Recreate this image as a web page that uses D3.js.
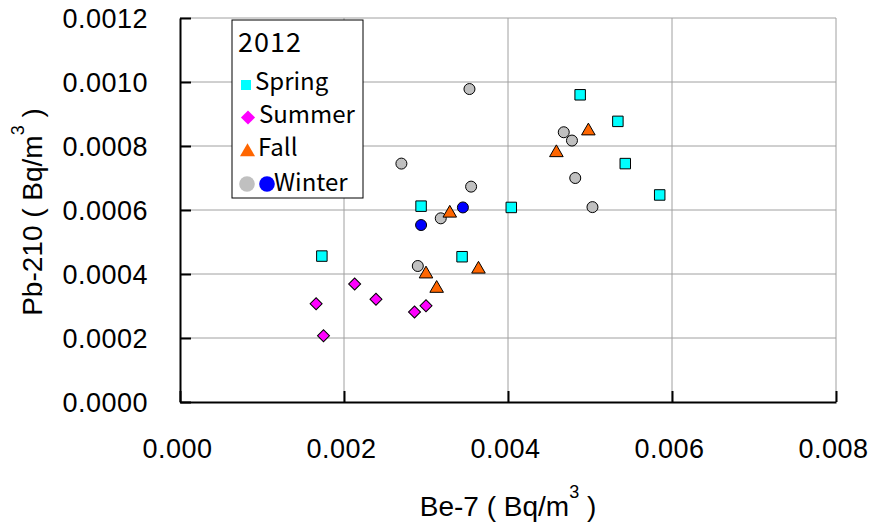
<!DOCTYPE html>
<html lang="en">
<head>
<meta charset="UTF-8">
<title>Be-7 vs Pb-210 2012</title>
<script src="https://cdn.jsdelivr.net/npm/d3@7"></script>
<style>
    body { margin: 0; background: #fff; }
    svg text { font-family: "Liberation Sans", Arial, sans-serif; fill: #000; }
    .grid line { stroke: #a0a0a0; stroke-width: 1px; }
    .axis path, .axis line { stroke: #000; stroke-width: 2px; }
    .axis text { font-family: "Liberation Sans", Arial, sans-serif; letter-spacing: 0.5px; }
    .legend text { font-family: "Noto Sans CJK JP", "DejaVu Sans", sans-serif; }
</style>
</head>
<body>
<svg width="869" height="526"></svg>
<script>
    // data (Be-7, Pb-210 in Bq/m3)
    var springX = [0.00173, 0.00294, 0.00344, 0.00404, 0.00488, 0.00534, 0.00543, 0.00585],
        springY = [0.000456, 0.000612, 0.000454, 0.000608, 0.00096, 0.000877, 0.000745, 0.000647];

    var summerX = [0.00166, 0.00175, 0.00213, 0.00239, 0.00286, 0.00300],
        summerY = [0.000307, 0.000207, 0.000369, 0.000321, 0.000281, 0.000301];

    var fallX = [0.00329, 0.00300, 0.00313, 0.00364, 0.00459, 0.00498],
        fallY = [0.000590, 0.000400, 0.000355, 0.000415, 0.000779, 0.000847];

    var winterGrayX = [0.00353, 0.00270, 0.00355, 0.00318, 0.00290, 0.00468, 0.00478, 0.00482, 0.00503],
        winterGrayY = [0.000978, 0.000745, 0.000673, 0.000574, 0.000425, 0.000843, 0.000817, 0.000700, 0.000609];

    var winterBlueX = [0.00294, 0.00345],
        winterBlueY = [0.000553, 0.000608];

    var xTicks = [0, 0.002, 0.004, 0.006, 0.008],
        yTicks = [0, 0.0002, 0.0004, 0.0006, 0.0008, 0.0010, 0.0012];

    var legendTitle = '2012',
        legendNames = ['Spring', 'Summer', 'Fall', 'Winter'];

    var svg = d3.select('svg'),
        pLeft = 180, pRight = 836, pTop = 18, pBottom = 402;

    var x = d3.scaleLinear().domain([0, 0.008]).range([pLeft, pRight]),
        y = d3.scaleLinear().domain([0, 0.0012]).range([pBottom, pTop]);

    // grid
    var grid = svg.append('g').classed('grid', true);
    grid.selectAll('.gy')
        .data(yTicks.slice(1))
        .enter().append('line')
        .attr('x1', pLeft).attr('x2', pRight)
        .attr('y1', function(d) { return y(d); })
        .attr('y2', function(d) { return y(d); });
    grid.selectAll('.gx')
        .data(xTicks.slice(1))
        .enter().append('line')
        .attr('y1', pTop).attr('y2', pBottom)
        .attr('x1', function(d) { return x(d); })
        .attr('x2', function(d) { return x(d); });

    // axes, ticks pointing inward
    svg.append('g')
        .classed('axis', true)
        .attr('transform', 'translate(0,' + pBottom + ')')
        .call(d3.axisBottom(x).tickValues(xTicks).tickSize(-11).tickSizeOuter(0).tickFormat(d3.format('.3f')))
        .call(function(g) {
            g.attr('font-size', null).attr('font-family', null);
            g.selectAll('text').attr('dy', 0).attr('y', 56).attr('dx', -3).style('font-size', '27px');
        });

    svg.append('g')
        .classed('axis', true)
        .attr('transform', 'translate(' + pLeft + ',0)')
        .call(d3.axisLeft(y).tickValues(yTicks).tickSize(-11).tickSizeOuter(0).tickFormat(d3.format('.4f')))
        .call(function(g) {
            g.attr('font-size', null).attr('font-family', null);
            g.selectAll('text').attr('x', -32).attr('dy', '0.36em').style('font-size', '27px');
        });

    svg.selectAll('.axis .domain').attr('stroke-width', 2.5);

    // axis titles
    var xt = svg.append('text')
        .attr('x', (pLeft + pRight) / 2)
        .attr('y', 516)
        .attr('text-anchor', 'middle')
        .style('font-size', '28px');
    xt.append('tspan').text('Be-7 ( Bq/m');
    xt.append('tspan').attr('dy', -18).style('font-size', '18px').text('3');
    xt.append('tspan').attr('dy', 18).text(' )');

    var yt = svg.append('text')
        .attr('transform', 'translate(42,' + ((pTop + pBottom) / 2 + 2) + ') rotate(-90)')
        .attr('text-anchor', 'middle')
        .style('font-size', '28px');
    yt.append('tspan').text('Pb-210 ( Bq/m');
    yt.append('tspan').attr('dy', -18).style('font-size', '18px').text('3');
    yt.append('tspan').attr('dy', 18).text(' )');

    // markers
    function zip(xs, ys) {
        return xs.map(function(v, i) { return [v, ys[i]]; });
    }

    var marks = svg.append('g');

    marks.selectAll('.wgray')
        .data(zip(winterGrayX, winterGrayY))
        .enter().append('circle')
        .attr('cx', function(d) { return x(d[0]); })
        .attr('cy', function(d) { return y(d[1]); })
        .attr('r', 5.5)
        .attr('fill', '#c0c0c0').attr('stroke', '#000').attr('stroke-width', 1);

    marks.selectAll('.wblue')
        .data(zip(winterBlueX, winterBlueY))
        .enter().append('circle')
        .attr('cx', function(d) { return x(d[0]); })
        .attr('cy', function(d) { return y(d[1]); })
        .attr('r', 5.5)
        .attr('fill', '#0000ff').attr('stroke', '#000').attr('stroke-width', 1);

    marks.selectAll('.spring')
        .data(zip(springX, springY))
        .enter().append('path')
        .attr('d', d3.symbol(d3.symbolSquare, 110))
        .attr('transform', function(d) { return 'translate(' + x(d[0]) + ',' + y(d[1]) + ')'; })
        .attr('fill', '#00ffff').attr('stroke', '#000').attr('stroke-width', 1);

    marks.selectAll('.summer')
        .data(zip(summerX, summerY))
        .enter().append('path')
        .attr('d', d3.symbol(d3.symbolSquare, 72))
        .attr('transform', function(d) { return 'translate(' + x(d[0]) + ',' + y(d[1]) + ') rotate(45)'; })
        .attr('fill', '#ff00ff').attr('stroke', '#000').attr('stroke-width', 1);

    marks.selectAll('.fall')
        .data(zip(fallX, fallY))
        .enter().append('path')
        .attr('d', d3.symbol(d3.symbolTriangle, 80))
        .attr('transform', function(d) { return 'translate(' + x(d[0]) + ',' + y(d[1]) + ')'; })
        .attr('fill', '#ff6600').attr('stroke', '#000').attr('stroke-width', 1);

    // legend
    var legend = svg.append('g').classed('legend', true);
    legend.append('rect')
        .attr('x', 232).attr('y', 20)
        .attr('width', 131).attr('height', 178)
        .attr('fill', '#fff').attr('stroke', '#000').attr('stroke-width', 1);

    legend.append('text')
        .attr('x', 238).attr('y', 52)
        .style('font-size', '27px')
        .style('letter-spacing', '1px')
        .text(legendTitle);

    var rowY = [90, 123, 156, 191];
    legend.append('rect')
        .attr('x', 241).attr('y', rowY[0] - 10).attr('width', 10).attr('height', 10)
        .attr('fill', '#00ffff');
    legend.append('path')
        .attr('d', d3.symbol(d3.symbolSquare, 100))
        .attr('transform', 'translate(248,' + (rowY[1] - 5.5) + ') rotate(45)')
        .attr('fill', '#ff00ff');
    legend.append('path')
        .attr('d', d3.symbol(d3.symbolTriangle, 98))
        .attr('transform', 'translate(247.5,' + (rowY[2] - 4) + ')')
        .attr('fill', '#ff6600');
    legend.append('circle')
        .attr('cx', 247).attr('cy', rowY[3] - 7).attr('r', 7.8)
        .attr('fill', '#c0c0c0');
    legend.append('circle')
        .attr('cx', 267).attr('cy', rowY[3] - 7).attr('r', 7.8)
        .attr('fill', '#0000ff');

    var textX = [255, 259, 258, 274];
    legend.selectAll('.lt')
        .data(legendNames)
        .enter().append('text')
        .attr('x', function(d, i) { return textX[i]; })
        .attr('y', function(d, i) { return rowY[i]; })
        .style('font-size', '24px')
        .text(function(d) { return d; });
</script>
</body>
</html>
